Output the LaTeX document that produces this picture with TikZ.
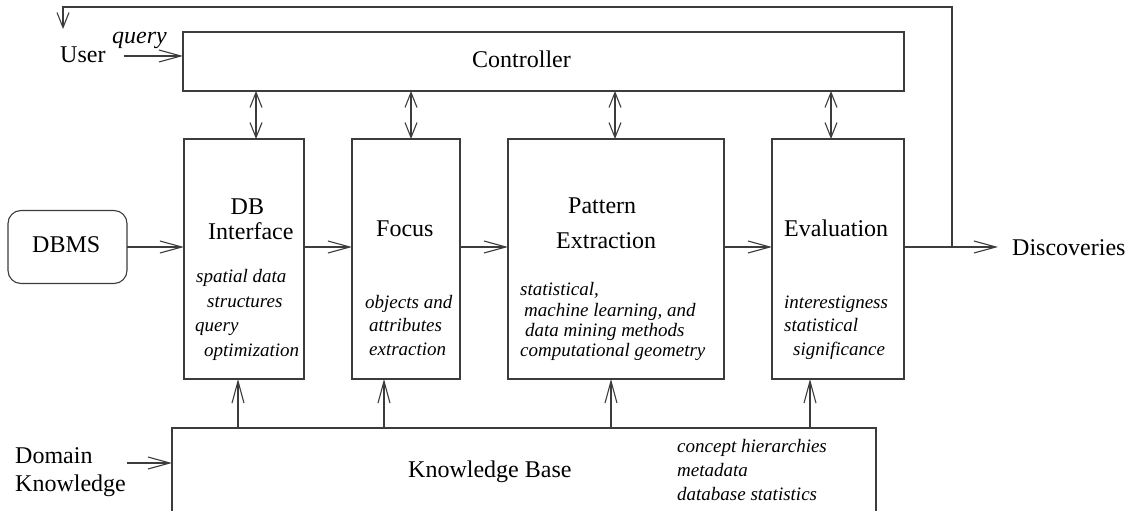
\documentclass[tikz,border=0pt]{standalone}
\usepackage{fontspec}
\setmainfont{Liberation Serif}
\usetikzlibrary{arrows.meta}
\definecolor{ln}{RGB}{60,60,60}
\begin{document}
\begin{tikzpicture}[x=1pt,y=-1pt,
  box/.style={draw=ln, line width=1.1pt, inner sep=0pt, outer sep=0pt, rectangle},
  lbl/.style={inner sep=0pt, anchor=base west, font=\fontsize{24}{28}\selectfont},
  itl/.style={inner sep=0pt, anchor=base west, font=\fontsize{19}{23}\selectfont\itshape},
  wire/.style={draw=ln, line width=1.1pt},
  fwd/.style={wire, -{Straight Barb[length=22pt,width=12pt]}},
  back/.style={wire, -{Straight Barb[length=15pt,width=12pt]}},
  two/.style={wire, {Straight Barb[length=15pt,width=12pt]}-{Straight Barb[length=15pt,width=12pt]}},
]
\useasboundingbox (0,0) rectangle (1128,511);
\clip (0,0) rectangle (1128,511);

% main blocks
\node[box, minimum width=721pt, minimum height=59pt] (ctrl) at (543.5,61.5) {};
\node[box, rounded corners=13pt, minimum width=119pt, minimum height=73pt] (dbms) at (67.5,247) {};
\node[box, minimum width=120pt, minimum height=240pt] (dbi) at (244,259) {};
\node[box, minimum width=108pt, minimum height=240pt] (foc) at (406,259) {};
\node[box, minimum width=216pt, minimum height=240pt] (pat) at (616,259) {};
\node[box, minimum width=132pt, minimum height=240pt] (ev) at (838,259) {};
\node[box, minimum width=704pt, minimum height=132pt] (kb) at (524,494) {};

% labels
\node[lbl] (user) at (60,63) {User};
\node[lbl, font=\fontsize{24}{28}\selectfont\itshape] (query) at (112,44) {query};
\node[lbl] (ctrlt) at (472,68) {Controller};
\node[lbl] (dbmst) at (32,252) {DBMS};

\node[lbl] (dbi1) at (230.5,214) {DB};
\node[lbl] (dbi2) at (208,239) {Interface};
\node[itl] (dbi3) at (196,282) {spatial data};
\node[itl] (dbi4) at (207,307) {structures};
\node[itl] (dbi5) at (195,331) {query};
\node[itl] (dbi6) at (204,356) {optimization};

\node[lbl] (foc1) at (376,236) {Focus};
\node[itl] (foc2) at (365,308) {objects and};
\node[itl] (foc3) at (369,331) {attributes};
\node[itl] (foc4) at (369,355) {extraction};

\node[lbl] (pat1) at (568,213) {Pattern};
\node[lbl] (pat2) at (556,248) {Extraction};
\node[itl] (pat3) at (520,295) {statistical,};
\node[itl] (pat4) at (524,316) {machine learning, and};
\node[itl] (pat5) at (525,336) {data mining methods};
\node[itl] (pat6) at (520,356) {computational geometry};

\node[lbl] (ev1) at (784,236) {Evaluation};
\node[itl] (ev2) at (784,308) {interestigness};
\node[itl] (ev3) at (784,331) {statistical};
\node[itl] (ev4) at (793,355) {significance};

\node[lbl] (disc) at (1012,255) {Discoveries};
\node[lbl] (dom1) at (15,463) {Domain};
\node[lbl] (dom2) at (15,491) {Knowledge};
\node[lbl] (kbt) at (408,477) {Knowledge Base};
\node[itl] (kb1) at (677,452) {concept hierarchies};
\node[itl] (kb2) at (677,476) {metadata};
\node[itl] (kb3) at (677,500) {database statistics};

% connector anchors
\coordinate (row) at (0,247);
\coordinate (split) at (952,247);
\coordinate (ret) at (63,29);
\coordinate (uq) at (124,56);
\coordinate (dk) at (127,463);
\coordinate (out) at (998,247);

% data flow
\draw[fwd] (dbms.east) -- (dbms.east -| dbi.west);
\draw[fwd] (dbi.east |- row) -- (foc.west |- row);
\draw[fwd] (foc.east |- row) -- (pat.west |- row);
\draw[fwd] (pat.east |- row) -- (ev.west |- row);
\draw[fwd] (ev.east |- row) -- (out);
\draw[back] (split) |- ([yshift=22pt]ret) -- (ret);
\draw[fwd] (uq) -- (uq -| ctrl.west);
\draw[fwd] (dk) -- (dk -| kb.west);

% controller links
\draw[two] ([xshift=12pt]dbi.north) -- ([xshift=12pt]dbi.north |- ctrl.south);
\draw[two] ([xshift=5pt]foc.north) -- ([xshift=5pt]foc.north |- ctrl.south);
\draw[two] ([xshift=-1pt]pat.north) -- ([xshift=-1pt]pat.north |- ctrl.south);
\draw[two] ([xshift=-7pt]ev.north) -- ([xshift=-7pt]ev.north |- ctrl.south);

% knowledge base links
\draw[fwd] ([xshift=-6pt]dbi.south |- kb.north) -- ([xshift=-6pt]dbi.south);
\draw[fwd] ([xshift=-22pt]foc.south |- kb.north) -- ([xshift=-22pt]foc.south);
\draw[fwd] ([xshift=-5pt]pat.south |- kb.north) -- ([xshift=-5pt]pat.south);
\draw[fwd] ([xshift=-28pt]ev.south |- kb.north) -- ([xshift=-28pt]ev.south);
\end{tikzpicture}
\end{document}
